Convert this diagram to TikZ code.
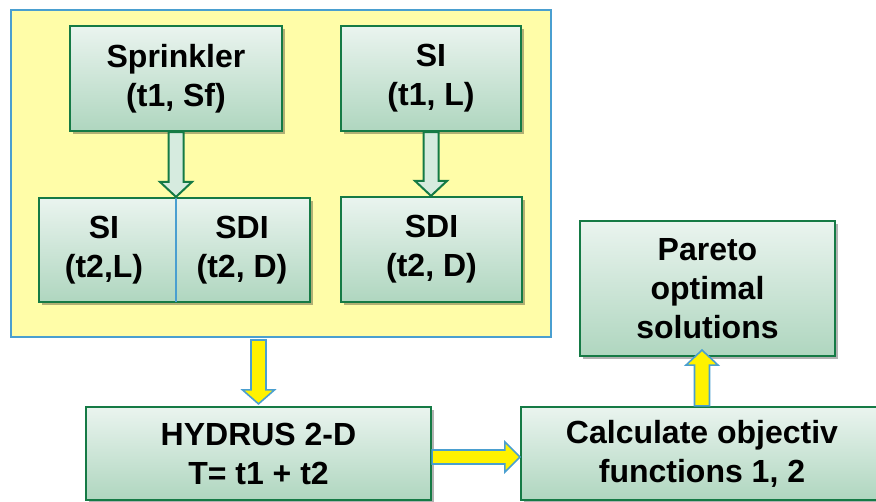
\documentclass[tikz,border=0pt]{standalone}
\usepackage{fontspec}
\setmainfont{Liberation Sans}
\usetikzlibrary{shadows,calc}
\definecolor{bgreen}{HTML}{157A45}
\definecolor{btop}{HTML}{EAF4EF}
\definecolor{bbot}{HTML}{AFD6BF}
\definecolor{ylfill}{HTML}{FFFDA8}
\definecolor{bblue}{HTML}{4A9FD0}
\definecolor{garrfill}{HTML}{D6EBDF}
\tikzset{
  box/.style={draw=bgreen, line width=2.2pt, top color=btop, bottom color=bbot,
    align=center, inner sep=0pt, font=\bfseries\fontsize{32}{39}\selectfont,
    drop shadow={opacity=0.3, shadow xshift=3pt, shadow yshift=-3pt, fill=black}},
  txt/.style={align=center, inner sep=0pt, font=\bfseries\fontsize{32}{39}\selectfont},
  garrow/.style={draw=bgreen, line width=2pt, fill=garrfill, line join=miter},
  yarrow/.style={draw=bblue, line width=1.6pt, fill=yellow, line join=miter},
}
\begin{document}
\begin{tikzpicture}[x=1pt,y=-1pt]
\useasboundingbox (0,0) rectangle (876,502);
\node[draw=bblue, line width=2pt, fill=ylfill, minimum width=540pt, minimum height=327pt, inner sep=0pt] (frame) at (281,173.5) {};

\node[box, minimum width=212pt, minimum height=105pt] (sp) at (176,78.5) {Sprinkler\\(t1, Sf)};
\node[box, minimum width=180pt, minimum height=105pt] (sit) at (431,78.5) {SI\\(t1, L)};
\node[box, minimum width=271pt, minimum height=104pt] (split) at (174.5,250) {};
\draw[bblue, line width=1.2pt] (176,198) -- (176,302);
\node[txt] (sil) at (104,250) {SI\\(t2,L)};
\node[txt] (sdil) at (242,250) {SDI\\(t2, D)};
\node[box, minimum width=181pt, minimum height=105pt] (sdi) at (431.5,249.5) {SDI\\(t2, D)};
\node[box, minimum width=255pt, minimum height=135pt] (par) at (707.5,288.5) {Pareto\\optimal\\solutions};
\node[box, minimum width=345pt, minimum height=93pt] (hyd) at (258.5,453.5) {HYDRUS 2-D\\T= t1 + t2};
\node[box, minimum width=362pt, minimum height=93pt] (calc) at (702,453.5) {Calculate objectiv\\functions 1, 2};

% green block arrows (down)
\path[garrow] let \p1=(sp.south), \p2=(split.north) in
  (\x1-7.5pt,\y1) -- (\x1-7.5pt,\y2+15pt) -- (\x1-16pt,\y2+15pt) -- (\x1,\y2)
  -- (\x1+16pt,\y2+15pt) -- (\x1+7.5pt,\y2+15pt) -- (\x1+7.5pt,\y1) -- cycle;
\path[garrow] let \p1=(sit.south), \p2=(sdi.north) in
  (\x1-7.5pt,\y1) -- (\x1-7.5pt,\y2+15pt) -- (\x1-16pt,\y2+15pt) -- (\x1,\y2)
  -- (\x1+16pt,\y2+15pt) -- (\x1+7.5pt,\y2+15pt) -- (\x1+7.5pt,\y1) -- cycle;

% yellow block arrows
\path[yarrow] let \p1=(frame.south), \p2=(hyd.north) in
  (\x2-7.5pt,\y1-2pt) -- (\x2-7.5pt,\y2+16pt) -- (\x2-16pt,\y2+16pt) -- (\x2,\y2+2pt)
  -- (\x2+16pt,\y2+16pt) -- (\x2+7.5pt,\y2+16pt) -- (\x2+7.5pt,\y1-2pt) -- cycle;
\path[yarrow] let \p1=(hyd.east), \p2=(calc.west), \n1={\y1-3.5pt} in
  (\x1,\n1+7pt) -- (\x2-15pt,\n1+7pt) -- (\x2-15pt,\n1+15pt) -- (\x2,\n1)
  -- (\x2-15pt,\n1-15pt) -- (\x2-15pt,\n1-7pt) -- (\x1,\n1-7pt) -- cycle;
\path[yarrow] let \p1=(calc.north), \p2=(par.south) in
  (\x1-7.5pt,\y1) -- (\x1-7.5pt,\y2-8pt) -- (\x1-16pt,\y2-8pt) -- (\x1,\y2+7pt)
  -- (\x1+16pt,\y2-8pt) -- (\x1+7.5pt,\y2-8pt) -- (\x1+7.5pt,\y1) -- cycle;
\end{tikzpicture}
\end{document}
